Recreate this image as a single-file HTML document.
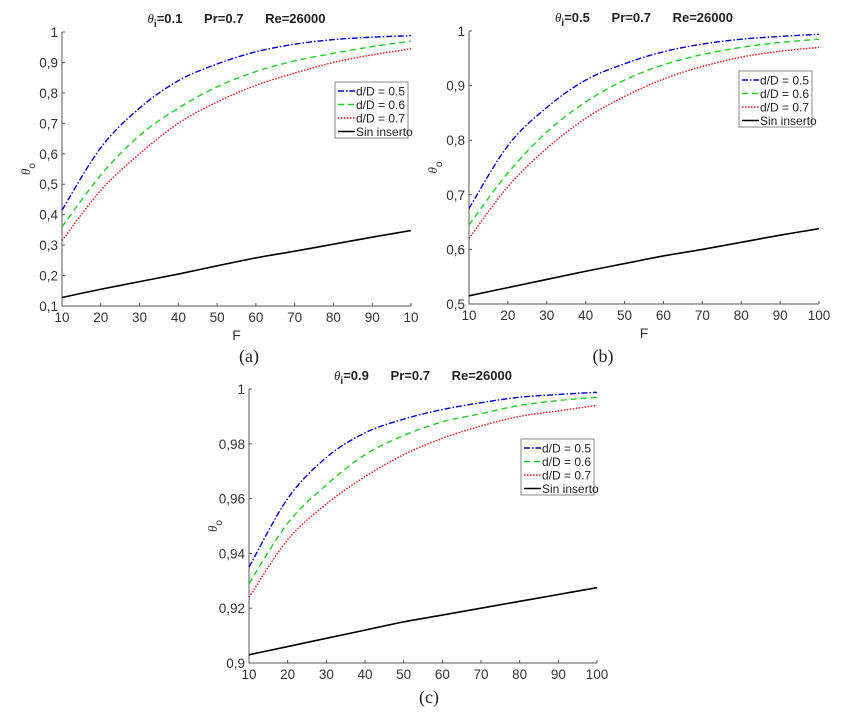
<!DOCTYPE html>
<html><head><meta charset="utf-8"><style>
body{margin:0;background:#fff;width:851px;height:713px;overflow:hidden}
svg{position:absolute;left:0;top:0}
text{font-family:"Liberation Sans",sans-serif}
text.serif{font-family:"Liberation Serif",serif}
tspan.th{font-family:"Liberation Serif",serif;font-style:italic;font-weight:normal}
</style></head><body>
<svg id="chart" width="851" height="713" xmlns="http://www.w3.org/2000/svg"></svg>
<script>
const categoriesF=[10,20,30,40,50,60,70,80,90,100];
const aBlue=[0.415,0.62,0.75,0.84,0.895,0.935,0.96,0.975,0.983,0.988];
const aGreen=[0.36,0.53,0.66,0.75,0.82,0.87,0.905,0.93,0.952,0.97];
const aRed=[0.315,0.48,0.60,0.70,0.77,0.825,0.865,0.9,0.925,0.945];
const aBlack=[0.128,0.155,0.18,0.205,0.232,0.258,0.28,0.303,0.326,0.348];
const bBlue=[0.675,0.79,0.86,0.91,0.94,0.962,0.976,0.985,0.99,0.994];
const bGreen=[0.645,0.74,0.815,0.87,0.91,0.938,0.957,0.970,0.979,0.985];
const bRed=[0.62,0.715,0.785,0.84,0.88,0.912,0.935,0.952,0.963,0.97];
const bBlack=[0.515,0.53,0.545,0.56,0.574,0.588,0.600,0.613,0.626,0.638];
const cBlue=[0.935,0.96,0.975,0.984,0.989,0.9925,0.995,0.997,0.998,0.9988];
const cGreen=[0.929,0.951,0.965,0.976,0.983,0.988,0.991,0.994,0.9958,0.997];
const cRed=[0.924,0.945,0.958,0.968,0.976,0.982,0.9865,0.99,0.992,0.994];
const cBlack=[0.903,0.906,0.909,0.912,0.915,0.9175,0.920,0.9225,0.925,0.9275];
const aXTicks=["10","20","30","40","50","60","70","80","90","10"];
const bXTicks=["10","20","30","40","50","60","70","80","90","100"];
const aYTicks=["0,1","0,2","0,3","0,4","0,5","0,6","0,7","0,8","0,9","1"];
const bYTicks=["0,5","0,6","0,7","0,8","0,9","1"];
const cYTicks=["0,9","0,92","0,94","0,96","0,98","1"];
const legendLabels=["d/D = 0.5","d/D = 0.6","d/D = 0.7","Sin inserto"];

const svg=document.getElementById('chart');
const NS='http://www.w3.org/2000/svg';
function mk(tag,attrs,parent){const e=document.createElementNS(NS,tag);for(const k in attrs)e.setAttribute(k,attrs[k]);(parent||svg).appendChild(e);return e;}
const styles=[{c:'#0000cc',d:'6,2,1.5,2'},{c:'#22cc22',d:'6,4'},{c:'#ee1111',d:'1.5,1.5'},{c:'#000',d:''}];

function panel(p){
  const g=mk('g',{});
  
  
  const sx=v=>p.x0+(v-10)/90*(p.x1-p.x0);
  const sy=v=>p.y1+(v-p.ymin)/(p.ymax-p.ymin)*(p.y0-p.y1);
  const ax=mk('path',{d:`M${p.x0},${p.y0}V${p.y1}H${p.x1}`,stroke:'#555',fill:'none','stroke-width':1},g);
  
  categoriesF.forEach((f,i)=>{
    const x=sx(f);
    mk('line',{x1:x,x2:x,y1:p.y1,y2:p.y1-3,stroke:'#555'},g);
    const t=mk('text',{x:x,y:p.y1+16,'text-anchor':'middle','font-size':13.5,fill:'#333'},g);
    t.textContent=p.xt[i];
    
  });
  p.yt.forEach((l,i)=>{
    const v=p.ymin+i*p.ystep;const y=sy(v);
    mk('line',{x1:p.x0,x2:p.x0+3,y1:y,y2:y,stroke:'#555'},g);
    const t=mk('text',{x:p.x0-4,y:y+5,'text-anchor':'end','font-size':13.5,fill:'#333'},g);
    t.textContent=l;
    
  });
  p.series.forEach((s,si)=>{
    const pts=s.map((v,i)=>[sx(categoriesF[i]),sy(v)]);
    let d=`M${pts[0][0]},${pts[0][1]}`;
    for(let i=0;i<pts.length-1;i++){
      const p0=pts[Math.max(0,i-1)],p1=pts[i],p2=pts[i+1],p3=pts[Math.min(pts.length-1,i+2)];
      d+=`C${p1[0]+(p2[0]-p0[0])/6},${p1[1]+(p2[1]-p0[1])/6} ${p2[0]-(p3[0]-p1[0])/6},${p2[1]-(p3[1]-p1[1])/6} ${p2[0]},${p2[1]}`;
    }
    const st=styles[si];
    const l=mk('path',{d:d,fill:'none',stroke:st.c,'stroke-width':si==3?1.6:1.4,'stroke-dasharray':st.d},g);
    
    
  });
  const tt=mk('text',{x:(p.x0+p.x1)/2,y:p.y0-9,'text-anchor':'middle','font-size':13,'font-weight':'bold',fill:'#222',style:'white-space:pre'},g);
  tt.innerHTML=`<tspan class="th">θ</tspan><tspan font-size="10" dy="4">i</tspan><tspan dy="-4">=${p.ti}      Pr=0.7      Re=26000</tspan>`;
  
  const yl=mk('text',{transform:`translate(${p.x0-32},${(p.y0+p.y1)/2}) rotate(-90)`,'text-anchor':'middle','font-size':13,fill:'#333'},g);
  yl.innerHTML='<tspan class="th">θ</tspan><tspan font-size="10" dy="5">o</tspan>';
  
  if(p.xl){const xl=mk('text',{x:(p.x0+p.x1)/2,y:p.y1+34,'text-anchor':'middle','font-size':14,fill:'#333'},g);xl.textContent='F';
    }
  const cap=mk('text',{x:p.capx,y:p.capy,'text-anchor':'middle','font-size':18,fill:'#222','class':'serif'},g);
  cap.textContent=p.cap;
  
  const L=p.leg;
  const lg=mk('g',{},g);
  
  mk('rect',{x:L[0],y:L[1],width:73,height:56,fill:'#fff',stroke:'#888'},lg);
  legendLabels.forEach((lab,i)=>{
    const y=L[1]+9+i*13.5;const st=styles[i];
    mk('line',{x1:L[0]+3,x2:L[0]+20,y1:y,y2:y,stroke:st.c,'stroke-width':1.5,'stroke-dasharray':st.d},lg);
    const t=mk('text',{x:L[0]+21,y:y+4.5,'font-size':12,fill:'#222'},lg);
    t.textContent=lab;
    
  });
}
panel({id:'a',x0:62,x1:411,y0:32,y1:306,ymin:0.1,ymax:1,ystep:0.1,xt:aXTicks,yt:aYTicks,series:[aBlue,aGreen,aRed,aBlack],ti:'0.1',xl:true,cap:'(a)',capx:249,capy:362,leg:[335,82]});
panel({id:'b',x0:469,x1:819,y0:31,y1:304,ymin:0.5,ymax:1,ystep:0.1,xt:bXTicks,yt:bYTicks,series:[bBlue,bGreen,bRed,bBlack],ti:'0.5',xl:true,cap:'(b)',capx:603,capy:362,leg:[739,71]});
panel({id:'c',x0:249,x1:597,y0:389,y1:663,ymin:0.9,ymax:1,ystep:0.02,xt:bXTicks,yt:cYTicks,series:[cBlue,cGreen,cRed,cBlack],ti:'0.9',xl:false,cap:'(c)',capx:429,capy:703,leg:[521,439]});
</script>
</body></html>
